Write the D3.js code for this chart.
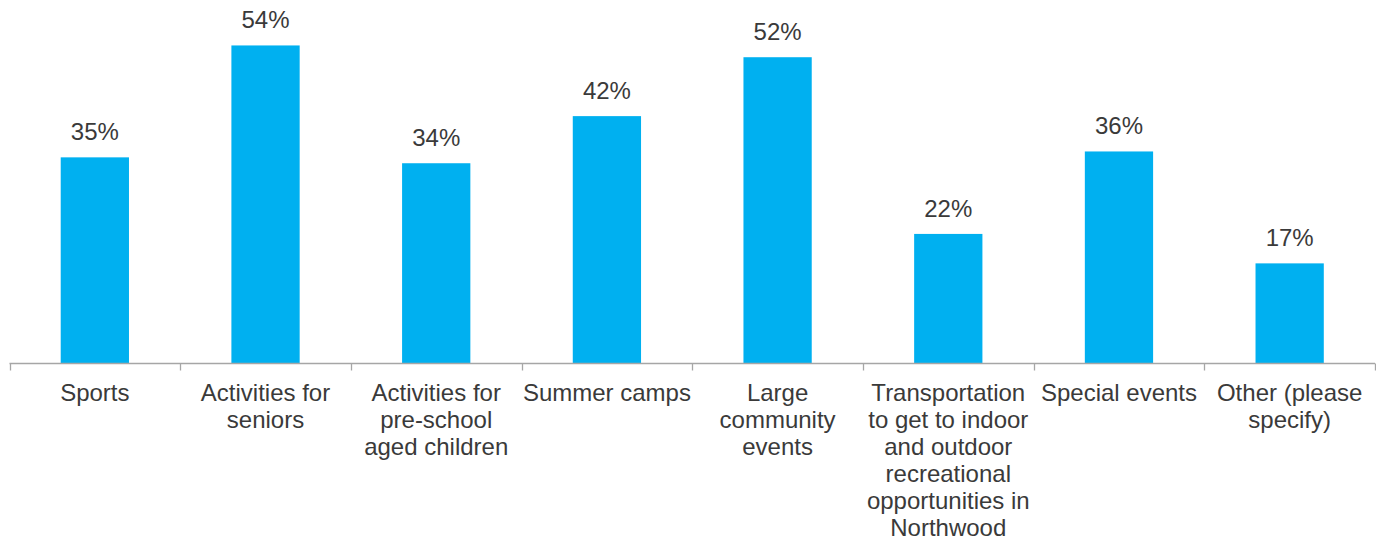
<!DOCTYPE html>
<html>
<head>
<meta charset="utf-8">
<script src="https://cdn.jsdelivr.net/npm/d3@7"></script>
<style>
  html, body { margin: 0; padding: 0; background: #fff; }
  svg { display: block; }
  text { font-family: "Liberation Sans", Arial, sans-serif; fill: #3a3a3a; }
</style>
</head>
<body>
<svg id="chart" width="1376" height="544"></svg>
<script>
// Category labels, already broken into lines
const categories = [
  ["Sports"],
  ["Activities for", "seniors"],
  ["Activities for", "pre-school", "aged children"],
  ["Summer camps"],
  ["Large", "community", "events"],
  ["Transportation", "to get to indoor", "and outdoor", "recreational", "opportunities in", "Northwood"],
  ["Special events"],
  ["Other (please", "specify)"]
];
const values = [35, 54, 34, 42, 52, 22, 36, 17];
const yDomain = [0, 60];

const svg = d3.select("#chart");
const baseY = 363.5;
const ids = d3.range(categories.length);

const x = d3.scaleBand().domain(ids).range([9.5, 1375]).paddingInner(0.6).paddingOuter(0.3);
const y = d3.scaleLinear().domain(yDomain).range([baseY, baseY - 60 * 5.89]);

// Bars
svg.append("g").selectAll("rect")
  .data(values)
  .join("rect")
  .attr("x", (d, i) => x(i))
  .attr("width", x.bandwidth())
  .attr("y", d => y(d))
  .attr("height", d => y(0) - y(d))
  .attr("fill", "#00B0F0");

// Value labels
svg.append("g").selectAll("text")
  .data(values)
  .join("text")
  .attr("x", (d, i) => x(i) + x.bandwidth() / 2)
  .attr("y", d => y(d) - 17)
  .attr("text-anchor", "middle")
  .style("font-size", "24px")
  .text(d => d + "%");

// Category axis with ticks at band boundaries
const edges = d3.scaleLinear().domain([0, categories.length]).range([9.5, 1375]);
const axis = svg.append("g");
axis.append("line")
  .attr("x1", edges(0)).attr("x2", edges(categories.length))
  .attr("y1", baseY).attr("y2", baseY)
  .attr("stroke", "#a6a6a6").attr("stroke-width", 1.3);
axis.selectAll("line.tick")
  .data(d3.range(categories.length + 1))
  .join("line")
  .attr("class", "tick")
  .attr("x1", d => Math.round(edges(d)) + 0.5).attr("x2", d => Math.round(edges(d)) + 0.5)
  .attr("y1", baseY).attr("y2", baseY + 7)
  .attr("stroke", "#a6a6a6").attr("stroke-width", 1.3);

const labels = axis.selectAll("text.cat")
  .data(categories)
  .join("text")
  .attr("class", "cat")
  .attr("text-anchor", "middle")
  .style("font-size", "24px")
  .attr("transform", (d, i) => `translate(${x(i) + x.bandwidth() / 2},${baseY + 37.5})`);
labels.selectAll("tspan")
  .data(d => d)
  .join("tspan")
  .attr("x", 0)
  .attr("y", (d, j) => j * 27)
  .text(d => d);
</script>
</body>
</html>
